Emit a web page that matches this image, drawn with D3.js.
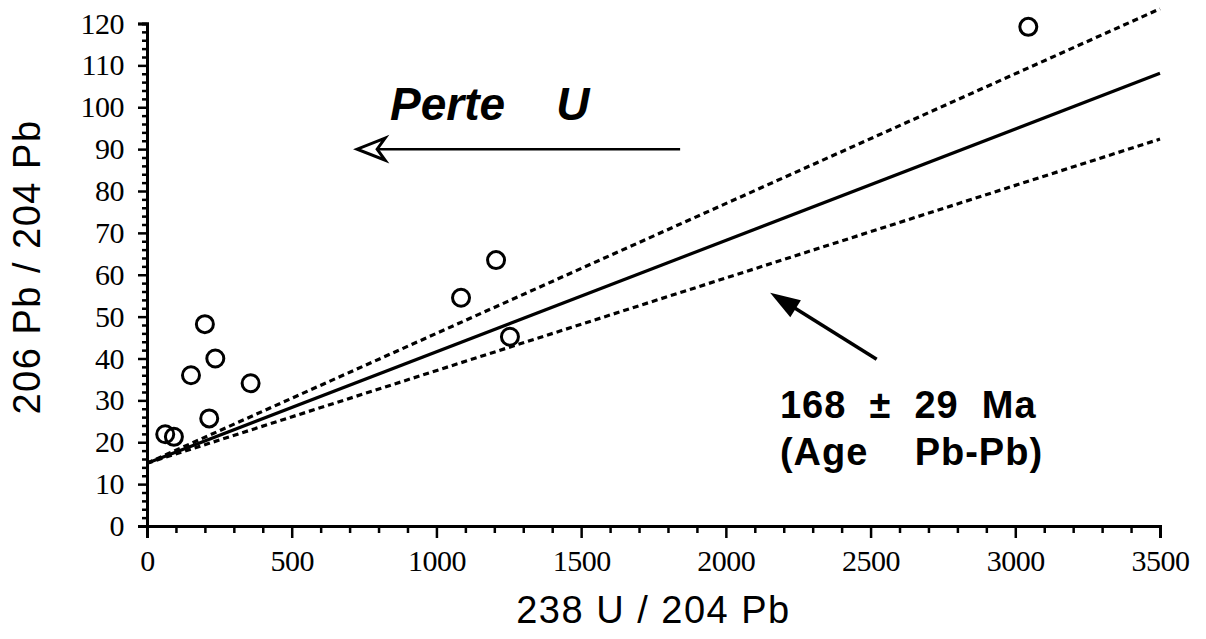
<!DOCTYPE html>
<html>
<head>
<meta charset="utf-8">
<script src="https://cdn.jsdelivr.net/npm/d3@7"></script>
<style>
  body { margin: 0; background: #fff; }
  svg text { white-space: pre; }
</style>
</head>
<body>
<svg id="chart" width="1206" height="639"></svg>
<script>
// measured points (238U/204Pb, 206Pb/204Pb)
const u238 = [63, 93, 152, 200, 236, 215, 358, 1085, 1206, 1254, 3045];
const pb206 = [21.9, 21.3, 36.0, 48.2, 40.0, 25.7, 34.1, 54.5, 63.5, 45.2, 119.2];

// isochron and error envelope: [x0, y0, x1, y1]
const isochron = [0, 15, 3500, 108.1];
const upperBound = [0, 15, 3500, 123.5];
const lowerBound = [0, 15, 3500, 92.4];

const xTicks = [0, 500, 1000, 1500, 2000, 2500, 3000, 3500];
const yTicks = [0, 10, 20, 30, 40, 50, 60, 70, 80, 90, 100, 110, 120];

// annotations in data units
const perteArrow = [1842, 90, 726, 90];
const perteLabel = { x: 840, y: 97, text: "Perte    U" };
const ageArrow = [2521, 39.8, 2153, 55.7];
const ageLines = ["168  \u00b1  29  Ma", "(Age    Pb-Pb)"];
const ageLabelPos = [2187, 25.8, 14.6];

const svg = d3.select("#chart");
const margin = { top: 23.5, right: 46, bottom: 113, left: 147 };
const width = +svg.attr("width") - margin.left - margin.right;
const height = +svg.attr("height") - margin.top - margin.bottom;

const g = svg.append("g").attr("transform", `translate(${margin.left},${margin.top})`);

const x = d3.scaleLinear().domain([0, 3500]).range([0, width]);
const y = d3.scaleLinear().domain([0, 120]).range([height, 0]);

// minor ticks
const xMinor = d3.range(0, 3501, 100).filter((v) => v % 500 !== 0);
const yMinor = d3.range(0, 121, 2).filter((v) => v % 10 !== 0);

const xAxis = g.append("g").attr("transform", `translate(0,${height})`);
xAxis.call(d3.axisBottom(x).tickValues(xMinor).tickSize(7).tickFormat(""));
xAxis.call((a) => a.selectAll(".tick line").attr("stroke-width", 2.5));
const xMajor = g.append("g").attr("transform", `translate(0,${height})`)
  .call(d3.axisBottom(x).tickValues(xTicks).tickSize(12).tickPadding(12).tickFormat(d3.format("d")));
xMajor.selectAll(".tick line").attr("stroke-width", 2.5);
xMajor.selectAll(".tick text")
  .attr("font-family", "Liberation Serif, serif")
  .attr("font-size", 30)
  .attr("letter-spacing", -0.5)
  .attr("fill", "#000");

const yAxis = g.append("g");
yAxis.call(d3.axisLeft(y).tickValues(yMinor).tickSize(5).tickFormat(""));
yAxis.selectAll(".tick line").attr("stroke-width", 2.5);
const yMajor = g.append("g")
  .call(d3.axisLeft(y).tickValues(yTicks).tickSize(9).tickPadding(14).tickFormat(d3.format("d")));
yMajor.selectAll(".tick line").attr("stroke-width", 2.5);
yMajor.selectAll(".tick text")
  .attr("font-family", "Liberation Serif, serif")
  .attr("font-size", 30)
  .attr("letter-spacing", -0.5)
  .attr("fill", "#000");

svg.selectAll(".domain").attr("stroke-width", 3).attr("stroke", "#000");
svg.selectAll(".tick line").attr("stroke", "#000");

// lines
const lineDefs = [
  { d: upperBound, dash: "6,4" },
  { d: isochron, dash: null },
  { d: lowerBound, dash: "6,4" },
];
g.selectAll(".iso")
  .data(lineDefs)
  .enter()
  .append("line")
  .attr("x1", (l) => x(l.d[0]))
  .attr("y1", (l) => y(l.d[1]))
  .attr("x2", (l) => x(l.d[2]))
  .attr("y2", (l) => y(l.d[3]))
  .attr("stroke", "#000")
  .attr("stroke-width", 3.2)
  .attr("stroke-dasharray", (l) => l.dash);

// points
g.selectAll(".pt")
  .data(u238.map((v, i) => [v, pb206[i]]))
  .enter()
  .append("circle")
  .attr("cx", (d) => x(d[0]))
  .attr("cy", (d) => y(d[1]))
  .attr("r", 8.5)
  .attr("fill", "none")
  .attr("stroke", "#000")
  .attr("stroke-width", 3);

// "Perte U" arrow with open head
const pa = perteArrow.map((v, i) => (i % 2 === 0 ? x(v) : y(v)));
g.append("line")
  .attr("x1", pa[0]).attr("y1", pa[1])
  .attr("x2", pa[2] + 8).attr("y2", pa[3])
  .attr("stroke", "#000").attr("stroke-width", 2.5);
g.append("path")
  .attr("d", `M${pa[2] + 28},${pa[3] - 11} L${pa[2]},${pa[3]} L${pa[2] + 28},${pa[3] + 11} L${pa[2] + 20},${pa[3]} Z`)
  .attr("fill", "#fff")
  .attr("stroke", "#000")
  .attr("stroke-width", 3)
  .attr("stroke-linejoin", "miter");

g.append("text")
  .attr("x", x(perteLabel.x))
  .attr("y", y(perteLabel.y))
  .attr("font-family", "Liberation Sans, Arial, sans-serif")
  .attr("font-size", 46)
  .attr("font-weight", "bold")
  .attr("font-style", "italic")
  .text(perteLabel.text);

// age arrow with filled head
const aa = ageArrow.map((v, i) => (i % 2 === 0 ? x(v) : y(v)));
const ang = Math.atan2(aa[3] - aa[1], aa[2] - aa[0]);
const headLen = 30, headW = 10;
g.append("line")
  .attr("x1", aa[0]).attr("y1", aa[1])
  .attr("x2", aa[2] - Math.cos(ang) * 20).attr("y2", aa[3] - Math.sin(ang) * 20)
  .attr("stroke", "#000").attr("stroke-width", 3.5);
const bx = aa[2] - Math.cos(ang) * headLen, by = aa[3] - Math.sin(ang) * headLen;
g.append("path")
  .attr("d", `M${aa[2]},${aa[3]} L${bx - Math.sin(ang) * headW},${by + Math.cos(ang) * headW} L${bx + Math.sin(ang) * headW},${by - Math.cos(ang) * headW} Z`)
  .attr("fill", "#000");

g.selectAll(".age")
  .data(ageLines)
  .enter()
  .append("text")
  .attr("x", x(ageLabelPos[0]))
  .attr("y", (d, i) => y(ageLabelPos[i + 1]))
  .attr("font-family", "Liberation Sans, Arial, sans-serif")
  .attr("font-size", 38)
  .attr("font-weight", "bold")
  .attr("letter-spacing", 1)
  .text((d) => d);

// axis titles
svg.append("text")
  .attr("x", margin.left + x(1750))
  .attr("y", 623)
  .attr("text-anchor", "middle")
  .attr("font-family", "Liberation Sans, Arial, sans-serif")
  .attr("font-size", 38)
  .attr("letter-spacing", 1.5)
  .text("238 U / 204 Pb");

svg.append("text")
  .attr("transform", "translate(40,267) rotate(-90)")
  .attr("text-anchor", "middle")
  .attr("font-family", "Liberation Sans, Arial, sans-serif")
  .attr("font-size", 38)
  .attr("letter-spacing", 1.5)
  .text("206 Pb / 204 Pb");
</script>
</body>
</html>
